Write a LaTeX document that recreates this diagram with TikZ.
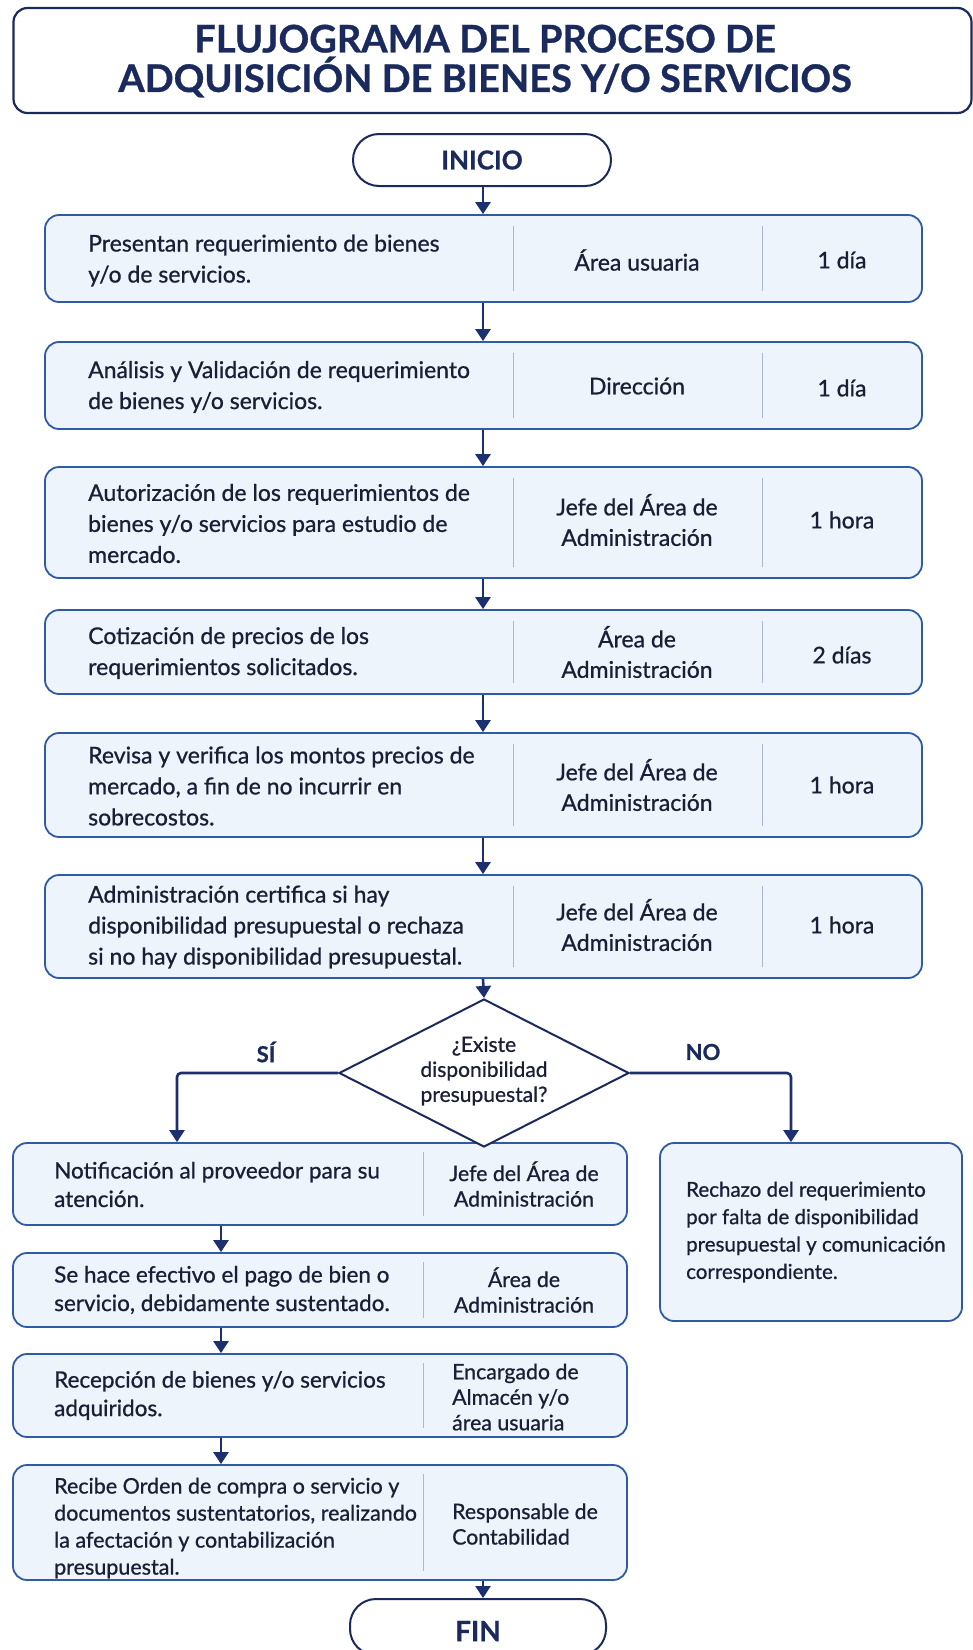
\documentclass[tikz,border=0pt]{standalone}
\usepackage{fontspec}
\setmainfont{Lato}[FakeBold=0.8]
\usetikzlibrary{arrows.meta,shapes.geometric,calc}
\definecolor{navy}{HTML}{1B2A5C}
\definecolor{boxblue}{HTML}{2F5AA6}
\definecolor{boxfill}{HTML}{EEF4FC}
\definecolor{txtdark}{HTML}{1A1F36}
\definecolor{divcol}{HTML}{A9B9D2}
\definecolor{arrcol}{HTML}{1C2F6E}
\tikzset{
  procbox/.style={draw=boxblue, line width=1.8pt, fill=boxfill, rounded corners=14pt, inner sep=0},
  termbox/.style={draw=navy, line width=2pt, fill=white, rounded corners=26pt, inner sep=0},
  titlebox/.style={draw=navy, line width=2.2pt, fill=white, rounded corners=14pt, inner sep=0},
  maintxt/.style={font=\fontsize{23}{31}\selectfont, text=txtdark, align=left, inner sep=0},
  coltxt/.style={font=\fontsize{23}{30.5}\selectfont, text=txtdark, align=center, inner sep=0},
  lefttxt/.style={font=\fontsize{22.5}{28.5}\selectfont, text=txtdark, align=left, inner sep=0},
  leftcol/.style={font=\fontsize{21.3}{25.5}\selectfont, text=txtdark, inner sep=0},
  divline/.style={draw=divcol, line width=1pt},
  arr/.style={draw=arrcol, line width=2.6pt, -{Triangle[width=15pt,length=12pt]}},
  lbl/.style={font=\bfseries\fontsize{22}{26}\selectfont, text=navy, inner sep=0},
}
\begin{document}
\begin{tikzpicture}[x=1pt,y=-1pt]
\clip (0,0) rectangle (973,1650);
\fill[white] (0,0) rectangle (973,1650);
% title
\node[titlebox, minimum width=958pt, minimum height=105pt] (title) at (492.5,60.5) {};
\node[font=\bfseries\fontsize{38}{39.5}\selectfont, text=navy, align=center, inner sep=0] (tt) at (485,61) {FLUJOGRAMA DEL PROCESO DE\\ADQUISICIÓN DE BIENES Y/O SERVICIOS};
% inicio
\node[termbox, minimum width=258pt, minimum height=52pt] (ini) at (482,160) {};
\node[font=\bfseries\fontsize{26}{30}\selectfont, text=navy, inner sep=0] (init) at (ini) {INICIO};
% main boxes
\coordinate (ax) at (483,0);
\node[procbox, minimum width=877pt, minimum height=87pt] (b1) at (483.5,258.5) {};
\node[procbox, minimum width=877pt, minimum height=87pt] (b2) at (483.5,385.5) {};
\node[procbox, minimum width=877pt, minimum height=111pt] (b3) at (483.5,522.5) {};
\node[procbox, minimum width=877pt, minimum height=84pt] (b4) at (483.5,652) {};
\node[procbox, minimum width=877pt, minimum height=104pt] (b5) at (483.5,785) {};
\node[procbox, minimum width=877pt, minimum height=103pt] (b6) at (483.5,926.5) {};
\foreach \b in {b1,b2,b3,b4,b5,b6}{
  \draw[divline] ([yshift=-12pt]\b.north -| 513,0) -- ([yshift=12pt]\b.south -| 513,0);
  \draw[divline] ([yshift=-12pt]\b.north -| 762,0) -- ([yshift=12pt]\b.south -| 762,0);
}
\node[maintxt, anchor=west] (t1a) at (88,260.5) {Presentan requerimiento de bienes\\y/o de servicios.};
\node[coltxt] (t1b) at (637,260) {Área usuaria};
\node[coltxt] (t1c) at (842,260) {1 día};
\node[maintxt, anchor=west] (t2a) at (88,387) {Análisis y Validación de requerimiento\\de bienes y/o servicios.};
\node[coltxt] (t2b) at (637,386) {Dirección};
\node[coltxt] (t2c) at (842,388) {1 día};
\node[maintxt, anchor=west] (t3a) at (88,523.5) {Autorización de los requerimientos de\\bienes y/o servicios para estudio de\\mercado.};
\node[coltxt] (t3b) at (637,520) {Jefe del Área de\\Administración};
\node[coltxt] (t3c) at (842,520) {1 hora};
\node[maintxt, anchor=west] (t4a) at (88,653) {Cotización de precios de los\\requerimientos solicitados.};
\node[coltxt] (t4b) at (637,652) {Área de\\Administración};
\node[coltxt] (t4c) at (842,655) {2 días};
\node[maintxt, anchor=west] (t5a) at (88,786) {Revisa y verifica los montos precios de\\mercado, a fin de no incurrir en\\sobrecostos.};
\node[coltxt] (t5b) at (637,785) {Jefe del Área de\\Administración};
\node[coltxt] (t5c) at (842,785) {1 hora};
\node[maintxt, anchor=west] (t6a) at (88,927) {Administración certifica si hay\\disponibilidad presupuestal o rechaza\\si no hay disponibilidad presupuestal.};
\node[coltxt] (t6b) at (637,925) {Jefe del Área de\\Administración};
\node[coltxt] (t6c) at (842,925) {1 hora};
% left boxes
\node[procbox, minimum width=614pt, minimum height=82pt] (l1) at (320,1184) {};
\node[procbox, minimum width=614pt, minimum height=74pt] (l2) at (320,1290) {};
\node[procbox, minimum width=614pt, minimum height=83pt] (l3) at (320,1395.5) {};
\node[procbox, minimum width=614pt, minimum height=115pt] (l4) at (320,1522.5) {};
\foreach \b in {l1,l2,l3,l4}{
  \draw[divline] ([yshift=-10pt]\b.north -| 423,0) -- ([yshift=10pt]\b.south -| 423,0);
}
\node[lefttxt, anchor=west] (s1a) at (54,1184.5) {Notificación al proveedor para su\\atención.};
\node[leftcol, align=center] (s1b) at (524,1184) {Jefe del Área de\\Administración};
\node[lefttxt, anchor=west] (s2a) at (54,1290) {Se hace efectivo el pago de bien o\\servicio, debidamente sustentado.};
\node[leftcol, align=center] (s2b) at (524,1290) {Área de\\Administración};
\node[lefttxt, anchor=west] (s3a) at (54,1395.5) {Recepción de bienes y/o servicios\\adquiridos.};
\node[leftcol, align=left, anchor=west] (s3b) at (452,1397) {Encargado de\\Almacén y/o\\área usuaria};
\node[font=\fontsize{21.5}{27}\selectfont, text=txtdark, align=left, inner sep=0, anchor=west] (s4a) at (54,1528) {Recibe Orden de compra o servicio y\\documentos sustentatorios, realizando\\la afectación y contabilización\\presupuestal.};
\node[leftcol, align=left, anchor=west] (s4b) at (452,1524) {Responsable de\\Contabilidad};
% right box
\node[procbox, minimum width=302pt, minimum height=178pt] (r) at (811,1232) {};
\node[font=\fontsize{20.5}{27.4}\selectfont, text=txtdark, align=left, inner sep=0, anchor=west] (rt) at (686,1232) {Rechazo del requerimiento\\por falta de disponibilidad\\presupuestal y comunicación\\correspondiente.};
% FIN
\node[termbox, minimum width=256pt, minimum height=56pt] (fin) at (478,1627) {};
\node[font=\bfseries\fontsize{28}{32}\selectfont, text=navy, inner sep=0] (fint) at (478,1631) {FIN};
% diamond
\node[diamond, draw=navy, line width=2pt, fill=white, minimum width=290pt, minimum height=148pt, inner sep=0] (d) at (484,1073) {};
\node[font=\fontsize{21}{25}\selectfont, text=txtdark, align=center, inner sep=0] (dt) at (484,1071) {¿Existe\\disponibilidad\\presupuestal?};
\node[lbl] (si) at (266,1052) {SÍ};
\node[lbl] (no) at (703,1052) {NO};
% arrows
\draw[arr] (ini.south -| ax) -- (b1.north -| ax);
\draw[arr] (b1.south -| ax) -- (b2.north -| ax);
\draw[arr] (b2.south -| ax) -- (b3.north -| ax);
\draw[arr] (b3.south -| ax) -- (b4.north -| ax);
\draw[arr] (b4.south -| ax) -- (b5.north -| ax);
\draw[arr] (b5.south -| ax) -- (b6.north -| ax);
\draw[arr] (b6.south -| ax) -- (d.north);
\coordinate (sx) at (177,0);
\coordinate (nx) at (791,0);
\draw[arr, rounded corners=4pt] (d.west) -| (l1.north -| sx);
\draw[arr, rounded corners=4pt] (d.east) -| (r.north -| nx);
\coordinate (lx) at (221,0);
\draw[arr] (l1.south -| lx) -- (l2.north -| lx);
\draw[arr] (l2.south -| lx) -- (l3.north -| lx);
\draw[arr] (l3.south -| lx) -- (l4.north -| lx);
\draw[arr] (l4.south -| ax) -- (fin.north -| ax);
\end{tikzpicture}
\end{document}
